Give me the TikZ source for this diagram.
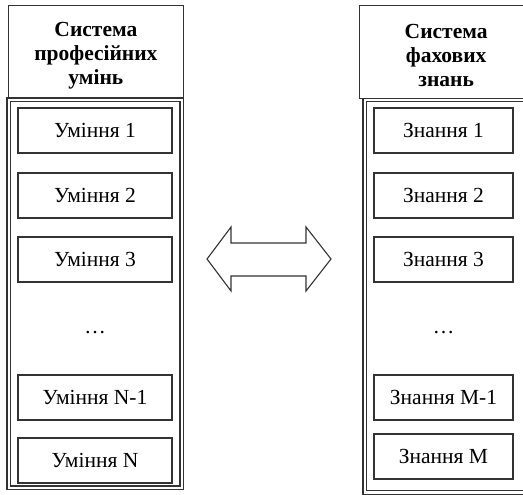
\documentclass[tikz,border=0pt]{standalone}
\usepackage{fontspec}
\setmainfont{Liberation Serif}
\definecolor{linec}{HTML}{333333}
\begin{document}
\begin{tikzpicture}[x=1pt,y=-1pt,
  frame/.style={draw=linec, line width=1.3pt},
  header/.style={frame, anchor=north west, inner sep=0pt, align=center,
    font=\fontsize{21.5}{24}\selectfont\bfseries},
  holder/.style={draw=linec, line width=1.3pt, double=white, double distance=2.2pt},
  item/.style={draw=linec, line width=1.2pt, inner sep=0pt,
    minimum height=45pt, font=\fontsize{21.5}{24}\selectfont},
  litem/.style={item, minimum width=154pt},
  ritem/.style={item, minimum width=139pt},
  dots/.style={font=\fontsize{21.5}{24}\selectfont, inner sep=0pt},
  twoway/.style={draw=linec, line width=1.1pt, fill=white, line join=miter}
]
\clip (0,0) rectangle (523,495);

% left column: skills
\draw[holder] (8.75,99.75) rectangle (181.75,487.75);
\node[header, minimum width=174.5pt, minimum height=93pt] (lhead) at (8,5)
  {\rule{0pt}{21pt}Система\\професійних\\умінь};
\node[litem] (u1) at (95,130.5) {Уміння 1};
\node[litem] (u2) at (95,195.5) {Уміння 2};
\node[litem] (u3) at (95,259.5) {Уміння 3};
\node[dots]  (ud) at (95,333) {…};
\node[litem] (un1) at (95,397.5) {Уміння N-1};
\node[litem] (un) at (95,460.5) {Уміння N};

% right column: knowledge
\draw[holder] (364.75,100) rectangle (545,492.5);
\node[header, minimum width=173pt, minimum height=93pt] (rhead) at (359,5)
  {\rule{0pt}{21pt}Система\\фахових\\знань};
\node[ritem] (z1) at (443.5,130.5) {Знання 1};
\node[ritem] (z2) at (443.5,195.5) {Знання 2};
\node[ritem] (z3) at (443.5,259.5) {Знання 3};
\node[dots]  (zd) at (443.5,333) {…};
\node[ritem] (zm1) at (443.5,397.5) {Знання M-1};
\node[ritem] (zm) at (443.5,456.5) {Знання M};

% block arrow between the columns
\draw[twoway] (207,259) -- (231,227) -- (231,243) -- (306,243) -- (306,227)
  -- (331,259) -- (306,291) -- (306,276) -- (231,276) -- (231,291) -- cycle;
\end{tikzpicture}
\end{document}
